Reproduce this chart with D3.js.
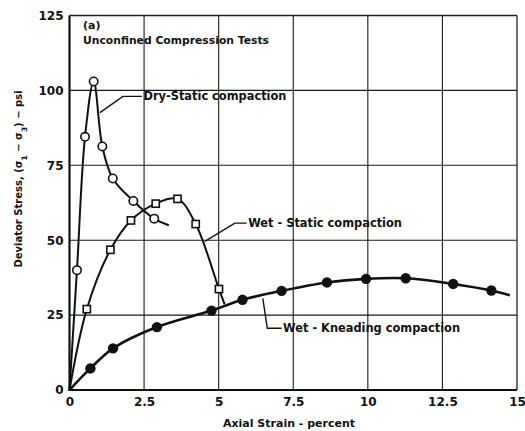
<!DOCTYPE html>
<html>
<head>
<meta charset="utf-8">
<script src="https://cdn.jsdelivr.net/npm/d3@7"></script>
<style>
  html, body { margin: 0; padding: 0; background: #fff; }
  svg { display: block; }
  text { font-family: "DejaVu Sans", "Liberation Sans", sans-serif; font-weight: bold; fill: #111; }
</style>
</head>
<body>
<svg id="chart" width="525" height="431"></svg>
<script>
// Axis ticks
const xTicks = [0, 2.5, 5, 7.5, 10, 12.5, 15];
const xTickLabels = ["0", "2.5", "5", "7.5", "10", "12.5", "15"];
const yTicks = [0, 25, 50, 75, 100, 125];
const yTickLabels = ["0", "25", "50", "75", "100", "125"];

// Dry-Static compaction (open circles); first and last points carry no marker
const dryStrain = [0, 0.25, 0.52, 0.81, 1.10, 1.45, 2.14, 2.84, 3.33];
const dryStress = [0, 40, 84.5, 103, 81.3, 70.6, 63.1, 57.2, 55.0];
const dryMarked = [false, true, true, true, true, true, true, true, false];

// Wet-Static compaction (open squares)
const wetStrain = [0, 0.58, 1.37, 2.06, 2.89, 3.62, 4.23, 5.01, 5.20];
const wetStress = [0, 27.0, 46.8, 56.6, 62.2, 63.8, 55.4, 33.7, 28.6];
const wetMarked = [false, true, true, true, true, true, true, true, false];

// Wet-Kneading compaction (filled circles)
const kneadStrain = [0, 0.70, 1.46, 2.93, 4.76, 5.80, 7.11, 8.63, 9.94, 11.27, 12.86, 14.14, 14.76];
const kneadStress = [0, 7.2, 13.9, 21.0, 26.5, 30.1, 33.1, 35.9, 37.1, 37.3, 35.4, 33.2, 31.6];
const kneadMarked = [false, true, true, true, true, true, true, true, true, true, true, true, false];

// Curve labels with their leader lines (strain, stress)
const labelTexts = ["Dry-Static compaction", "Wet - Static compaction", "Wet - Kneading compaction"];
const leaderStrain = [[1.02, 1.79, 2.43], [4.54, 5.54, 5.94], [6.48, 6.63, 7.11]];
const leaderStress = [[92.6, 98.0, 98.0], [49.6, 55.7, 55.7], [30.6, 20.6, 20.6]];

const svg = d3.select("#chart");
const x = d3.scaleLinear().domain([0, 15]).range([69.5, 517]);
const y = d3.scaleLinear().domain([0, 125]).range([390, 15.5]);

// Grid
const grid = svg.append("g").attr("stroke", "#1a1a1a").attr("stroke-width", 1.1);
grid.selectAll("line.gx").data(xTicks.slice(1, -1)).join("line")
  .attr("x1", d => x(d)).attr("x2", d => x(d))
  .attr("y1", y(125)).attr("y2", y(0));
grid.selectAll("line.gy").data(yTicks.slice(1, -1)).join("line")
  .attr("x1", x(0)).attr("x2", x(15))
  .attr("y1", d => y(d)).attr("y2", d => y(d));

// Frame: heavier left and bottom axes
svg.append("line").attr("x1", x(0)).attr("x2", x(15)).attr("y1", y(125)).attr("y2", y(125))
  .attr("stroke", "#222").attr("stroke-width", 1.3);
svg.append("line").attr("x1", x(15)).attr("x2", x(15)).attr("y1", y(125)).attr("y2", y(0))
  .attr("stroke", "#222").attr("stroke-width", 1.3);
svg.append("line").attr("x1", x(0)).attr("x2", x(0)).attr("y1", y(125)).attr("y2", y(0) + 1)
  .attr("stroke", "#111").attr("stroke-width", 2.2);
svg.append("line").attr("x1", x(0) - 1).attr("x2", x(15)).attr("y1", y(0)).attr("y2", y(0))
  .attr("stroke", "#111").attr("stroke-width", 2.2);

// Axes (labels only)
const xAxis = svg.append("g").attr("transform", `translate(0,${y(0)})`)
  .call(d3.axisBottom(x).tickValues(xTicks).tickSize(0).tickPadding(7)
    .tickFormat((d, i) => xTickLabels[i]));
xAxis.select(".domain").remove();
xAxis.selectAll("text").attr("font-size", 12).attr("font-family", null).attr("fill", "#111");

const yAxis = svg.append("g").attr("transform", `translate(${x(0)},0)`)
  .call(d3.axisLeft(y).tickValues(yTicks).tickSize(0).tickPadding(6)
    .tickFormat((d, i) => yTickLabels[i]));
yAxis.select(".domain").remove();
yAxis.selectAll("text").attr("font-size", 12).attr("font-family", null).attr("fill", "#111");

// Axis titles
svg.append("text").attr("x", 289).attr("y", 427).attr("text-anchor", "middle")
  .attr("font-size", 11).text("Axial Strain - percent");

const yt = svg.append("text").attr("transform", "translate(22,179) rotate(-90)")
  .attr("text-anchor", "middle").attr("font-size", 10);
yt.append("tspan").text("Deviator Stress, (σ");
yt.append("tspan").attr("baseline-shift", "sub").attr("font-size", 7.5).text("1");
yt.append("tspan").text(" − σ");
yt.append("tspan").attr("baseline-shift", "sub").attr("font-size", 7.5).text("3");
yt.append("tspan").text(") − psi");

// Panel caption
svg.append("text").attr("x", 83).attr("y", 29).attr("font-size", 11).text("(a)");
svg.append("text").attr("x", 83).attr("y", 44).attr("font-size", 11)
  .attr("textLength", 186).attr("lengthAdjust", "spacingAndGlyphs")
  .text("Unconfined Compression Tests");

// Curves
const line = d3.line().x(d => x(d[0])).y(d => y(d[1])).curve(d3.curveCatmullRom.alpha(0.5));
const zip = (a, b) => a.map((v, i) => [v, b[i]]);

const dryPts = zip(dryStrain, dryStress);
const wetPts = zip(wetStrain, wetStress);
const kneadPts = zip(kneadStrain, kneadStress);

svg.append("path").attr("d", line(kneadPts)).attr("fill", "none")
  .attr("stroke", "#111").attr("stroke-width", 2.6);
svg.append("path").attr("d", line(wetPts)).attr("fill", "none")
  .attr("stroke", "#111").attr("stroke-width", 2);
svg.append("path").attr("d", line(dryPts)).attr("fill", "none")
  .attr("stroke", "#111").attr("stroke-width", 2);

// Markers
svg.append("g").selectAll("circle").data(kneadPts.filter((d, i) => kneadMarked[i])).join("circle")
  .attr("cx", d => x(d[0])).attr("cy", d => y(d[1])).attr("r", 5.2).attr("fill", "#111");
svg.append("g").selectAll("rect").data(wetPts.filter((d, i) => wetMarked[i])).join("rect")
  .attr("x", d => x(d[0]) - 3.6).attr("y", d => y(d[1]) - 3.6)
  .attr("width", 7.2).attr("height", 7.2)
  .attr("fill", "#fff").attr("stroke", "#111").attr("stroke-width", 1.6);
svg.append("g").selectAll("circle").data(dryPts.filter((d, i) => dryMarked[i])).join("circle")
  .attr("cx", d => x(d[0])).attr("cy", d => y(d[1])).attr("r", 4.2)
  .attr("fill", "#fff").attr("stroke", "#111").attr("stroke-width", 1.6);

// Labels with leader lines
const leader = d3.line().x(d => x(d[0])).y(d => y(d[1]));
labelTexts.forEach((t, i) => {
  const pts = zip(leaderStrain[i], leaderStress[i]);
  svg.append("path").attr("d", leader(pts)).attr("fill", "none")
    .attr("stroke", "#111").attr("stroke-width", 1.4);
  const end = pts[pts.length - 1];
  svg.append("text").attr("x", x(end[0]) + 1.5).attr("y", y(end[1]) + 4)
    .attr("font-size", 11.4).text(t);
});
</script>
</body>
</html>
